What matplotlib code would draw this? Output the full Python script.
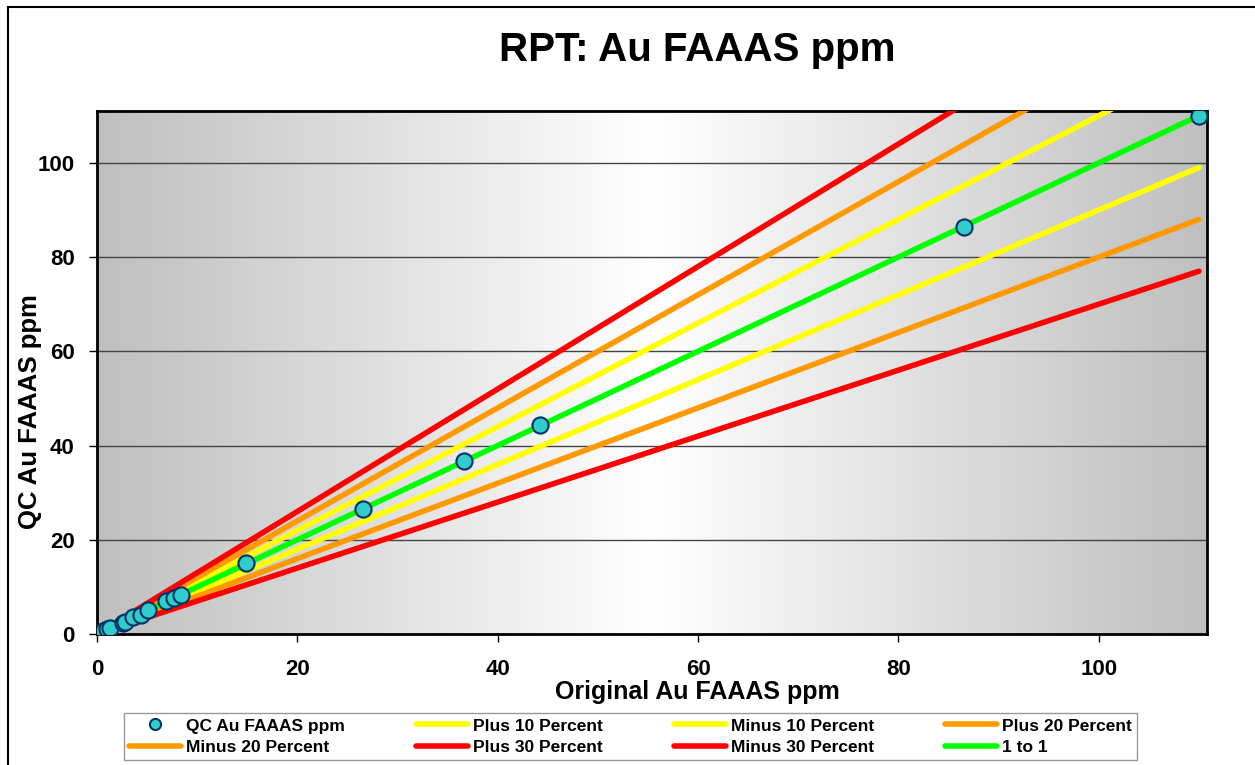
import numpy as np
import matplotlib.pyplot as plt
from matplotlib.patches import Rectangle
from matplotlib.lines import Line2D

plt.rcParams['font.family'] = ['Liberation Sans', 'DejaVu Sans']
plt.rcParams['font.weight'] = 'bold'

# QC duplicate data (original vs check assay), ppm
original_ppm = [0.05, 0.3, 0.6, 1.0, 1.3, 2.6, 2.8, 3.6, 4.4, 5.1, 6.9, 7.7, 8.4,
                14.9, 26.6, 36.6, 44.2, 86.5, 110.0]
qc_ppm = [0.1, 0.4, 0.6, 1.1, 1.3, 2.4, 2.6, 3.6, 4.1, 5.0, 6.9, 7.6, 8.3,
          15.0, 26.6, 36.7, 44.3, 86.4, 110.0]

line_end = [0, 110]
band_names = ['Plus 10 Percent', 'Minus 10 Percent', 'Plus 20 Percent', 'Minus 20 Percent',
              'Plus 30 Percent', 'Minus 30 Percent', '1 to 1']
band_factors = [1.1, 0.9, 1.2, 0.8, 1.3, 0.7, 1.0]
band_colors = ['#ffff00', '#ffff00', '#ff9900', '#ff9900', '#ff0000', '#ff0000', '#00ff00']

xticks = [0, 20, 40, 60, 80, 100]
yticks = [0, 20, 40, 60, 80, 100]

fig = plt.figure(figsize=(12.55, 7.65), dpi=100)

# outer chart frame
fig.patches.append(Rectangle((8 / 1255, -0.05), 1.2, 1 - 7 / 765 + 0.05, transform=fig.transFigure,
                             fill=False, edgecolor='black', linewidth=1.5, zorder=0))

ax = fig.add_axes([97 / 1255, 1 - 634 / 765, 1110 / 1255, 523 / 765])
ax.set_xlim(0, 110.8)
ax.set_ylim(0, 111)

# gray-white-gray background gradient
t = np.linspace(0, 1, 400)
d = np.abs(t - 0.5) * 2
shade = 1 - 0.25 * d
grad = np.dstack([shade, shade, shade])
ax.imshow(grad, extent=[0, 110.8, 0, 111], aspect='auto', zorder=0)

for v in yticks[1:]:
    ax.axhline(v, color='#444444', linewidth=1, zorder=1)

handles = []
ax.scatter(original_ppm, qc_ppm, s=135, c='#33cccc', edgecolors='#003366',
           linewidths=1.5, zorder=10, label='QC Au FAAAS ppm')
handles.append(Line2D([], [], linestyle='none', marker='o', markersize=8,
                      markerfacecolor='#33cccc', markeredgecolor='#003366',
                      markeredgewidth=1.5))
for name, f, c in zip(band_names, band_factors, band_colors):
    ln, = ax.plot(line_end, [v * f for v in line_end], color=c, linewidth=4,
                  solid_capstyle='round', zorder=3, label=name)
    handles.append(ln)

ax.set_xticks(xticks)
ax.set_yticks(yticks)
ax.tick_params(axis='both', direction='out', length=6, width=1, labelsize=16, pad=12)
ax.tick_params(axis='y', pad=10)
for s in ax.spines.values():
    s.set_linewidth(2)

fig.text(697 / 1255, 1 - 50 / 765, 'RPT: Au FAAAS ppm', ha='center', va='center',
         fontsize=29, fontweight='bold')
fig.text(697 / 1255, 1 - 692 / 765, 'Original Au FAAAS ppm', ha='center', va='center',
         fontsize=18, fontweight='bold')
fig.text(30 / 1255, 1 - 412 / 765, 'QC Au FAAAS ppm', ha='center', va='center',
         rotation=90, fontsize=18.5, fontweight='bold')

labels = ['QC Au FAAAS ppm'] + band_names
order = [0, 4, 1, 5, 2, 6, 3, 7]
leg = fig.legend([handles[i] for i in order], [labels[i] for i in order], ncol=4,
                 loc='lower left', bbox_to_anchor=(124 / 1255, 5 / 765, 1013 / 1255, 49 / 765),
                 mode='expand', fontsize=12.5, frameon=True, fancybox=False, handlelength=3.0,
                 handletextpad=0.3, borderpad=0.3, labelspacing=0.35, columnspacing=0.5,
                 borderaxespad=0)
leg.get_frame().set_edgecolor('#808080')
leg.get_frame().set_linewidth(1)

fig.savefig('out.png', dpi=100)
